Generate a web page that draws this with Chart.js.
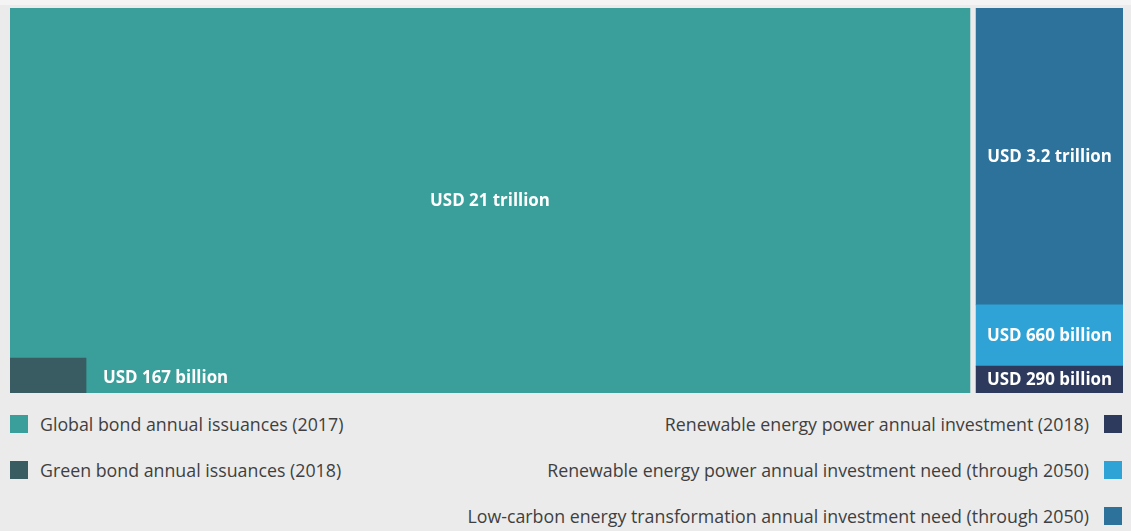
<!DOCTYPE html>
<html>
<head>
<meta charset="utf-8">
<script src="https://cdn.jsdelivr.net/npm/chart.js@4.4.1/dist/chart.umd.min.js"></script>
<style>
  html, body { margin: 0; padding: 0; background: #ebebeb; }
  body { width: 1131px; height: 531px; overflow: hidden; position: relative; font-family: 'Open Sans', sans-serif; }
  #topStrip { position: absolute; left: 0; top: 0; width: 1131px; height: 5px; background: #f4f4f4; }
  #chartWrap { position: absolute; left: 0; top: 0; width: 1131px; height: 400px; }
  .legendCol { position: absolute; top: 401px; }
  #legendLeft { left: 10px; }
  #legendRight { right: 9px; }
  .item { height: 46px; display: flex; align-items: center; gap: 12px; font-size: 17.8px; color: #3f3f3f; white-space: nowrap; }
  #legendRight .item { justify-content: flex-end; gap: 15px; }
  .swatch { width: 18px; height: 18px; flex: none; }
</style>
</head>
<body>
<div id="topStrip"></div>
<div id="chartWrap"><canvas id="chart" width="1131" height="400"></canvas></div>
<div class="legendCol" id="legendLeft"></div>
<div class="legendCol" id="legendRight"></div>
<script>
// Annual volumes, USD billion
const bondLabels = ['Global bond annual issuances (2017)', 'Green bond annual issuances (2018)'];
const bondValues = [21000, 167];
const energyLabels = [
  'Renewable energy power annual investment (2018)',
  'Renewable energy power annual investment need (through 2050)',
  'Low-carbon energy transformation annual investment need (through 2050)'
];
const energyValues = [290, 660, 3200];

// Colours
const bondColors = ['#3a9f9a', '#395b62'];
const energyColors = ['#2d3a5d', '#2fa2d6', '#2d729b'];

// Horizontal layout of the blocks, as fractions of the plot width
const bondBand = [0, 0.8625];
const greenInsetBand = [0, 0.0683];
const energyBand = [0.868, 1];

const usd = v => v >= 1000 ? 'USD ' + (v / 1000) + ' trillion' : 'USD ' + v + ' billion';
const mid = b => (b[0] + b[1]) / 2;
const bandWidth = b => ctx => {
  const x = ctx.chart.scales.x;
  return x.getPixelForValue(b[1]) - x.getPixelForValue(b[0]);
};
const energyTotal = energyValues.reduce((a, b) => a + b, 0);

const datasets = [
  {
    label: bondLabels[1], data: [{ x: mid(greenInsetBand), y: bondValues[1] }],
    yAxisID: 'y', backgroundColor: bondColors[1], barThickness: bandWidth(greenInsetBand),
    minBarLength: 35, valueText: usd(bondValues[1]), labelBeside: true
  },
  {
    label: bondLabels[0], data: [{ x: mid(bondBand), y: bondValues[0] }],
    yAxisID: 'y', backgroundColor: bondColors[0], barThickness: bandWidth(bondBand),
    valueText: usd(bondValues[0])
  }
].concat(energyLabels.map((lab, i) => ({
  label: lab, data: [{ x: mid(energyBand), y: energyValues[i] }],
  yAxisID: 'y2', stack: 'energy', backgroundColor: energyColors[i],
  barThickness: bandWidth(energyBand), valueText: usd(energyValues[i])
})));

// Value labels written inside (or beside) each block
const valueLabels = {
  id: 'valueLabels',
  afterDatasetsDraw(chart) {
    const ctx = chart.ctx;
    ctx.save();
    ctx.fillStyle = '#ffffff';
    ctx.font = '700 16.9px "Open Sans", sans-serif';
    ctx.textBaseline = 'middle';
    chart.data.datasets.forEach((ds, i) => {
      const bar = chart.getDatasetMeta(i).data[0];
      const cy = (bar.y + bar.base) / 2 + 1;
      if (ds.labelBeside) {
        ctx.textAlign = 'left';
        ctx.fillText(ds.valueText, bar.x + bar.width / 2 + 17, cy + 2);
      } else {
        ctx.textAlign = 'center';
        ctx.fillText(ds.valueText, bar.x, cy);
      }
    });
    ctx.restore();
  }
};

new Chart(document.getElementById('chart'), {
  type: 'bar',
  data: { datasets },
  options: {
    responsive: false,
    animation: false,
    events: [],
    layout: { padding: { left: 10, right: 8, top: 8, bottom: 7 } },
    datasets: { bar: { grouped: false, borderWidth: 0 } },
    plugins: { legend: { display: false }, tooltip: { enabled: false } },
    scales: {
      x: { type: 'linear', min: 0, max: 1, offset: false, display: false },
      y: { type: 'linear', min: 0, max: bondValues[0], display: false },
      y2: { type: 'linear', min: 0, max: energyTotal, stacked: true, display: false }
    }
  },
  plugins: [valueLabels]
});

// Legend
function legendItem(text, color, swatchFirst) {
  const el = document.createElement('div');
  el.className = 'item';
  const sw = document.createElement('span');
  sw.className = 'swatch';
  sw.style.background = color;
  const tx = document.createElement('span');
  tx.textContent = text;
  if (swatchFirst) { el.appendChild(sw); el.appendChild(tx); }
  else { el.appendChild(tx); el.appendChild(sw); }
  return el;
}
const left = document.getElementById('legendLeft');
bondLabels.forEach((t, i) => left.appendChild(legendItem(t, bondColors[i], true)));
const right = document.getElementById('legendRight');
energyLabels.forEach((t, i) => right.appendChild(legendItem(t, energyColors[i], false)));
</script>
</body>
</html>
